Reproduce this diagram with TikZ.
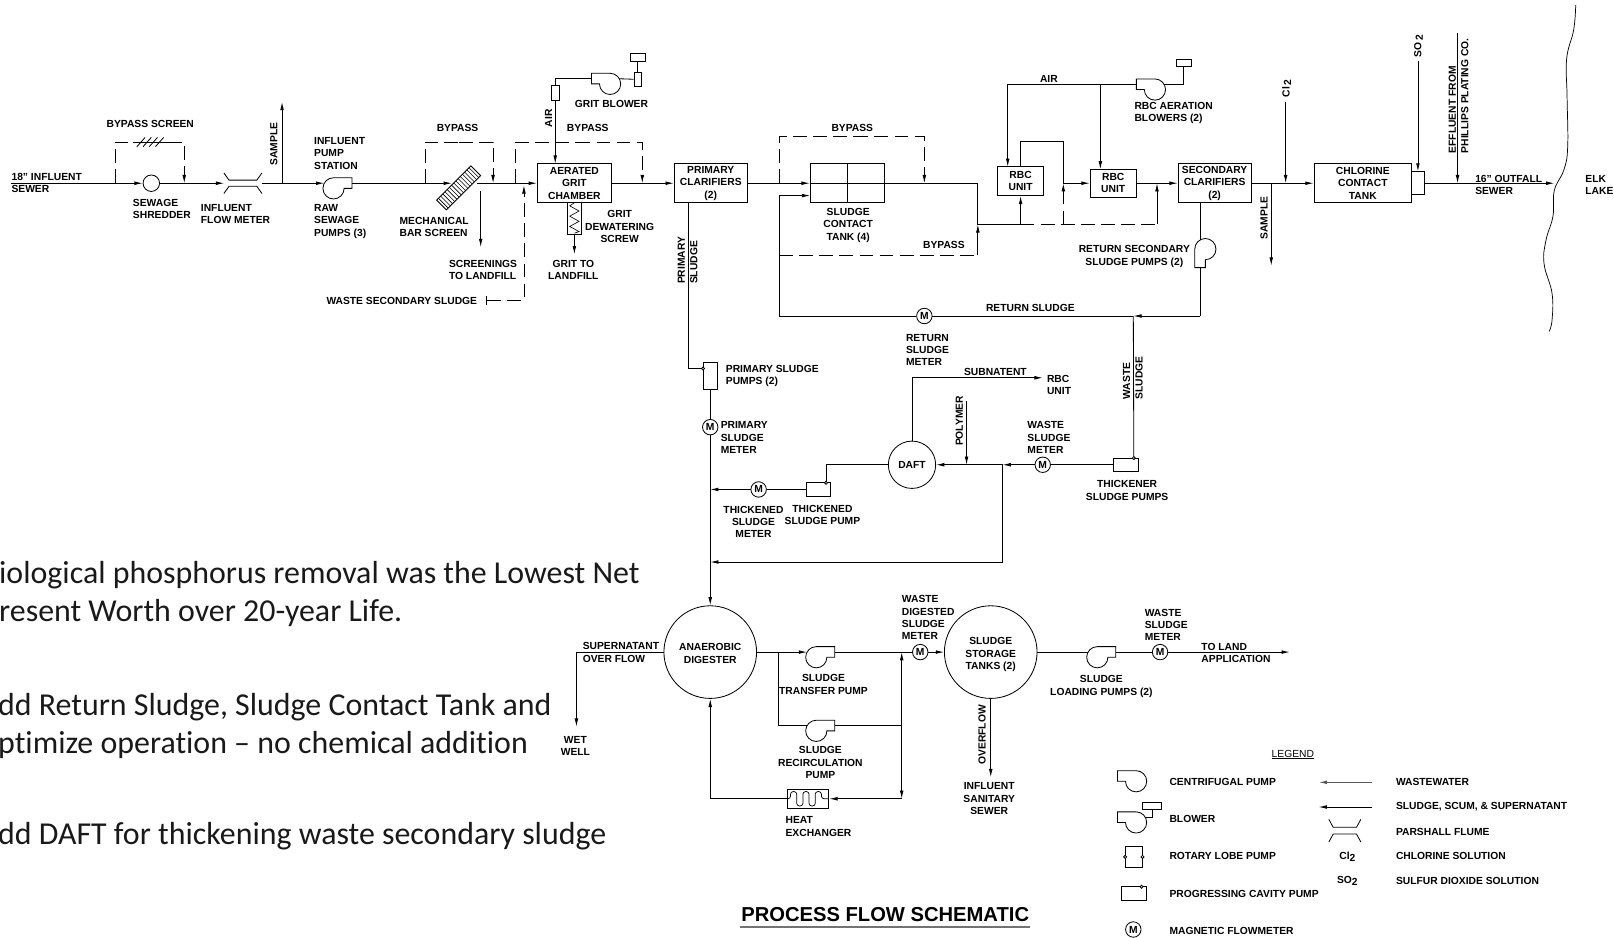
\documentclass[tikz,border=0pt]{standalone}
\usepackage{fontspec}
\setmainfont{Liberation Sans}
\newfontfamily\bodyf[Ligatures=NoCommon]{Carlito}
\usetikzlibrary{arrows.meta,calc}
\tikzset{
  ln/.style={line width=.8pt,draw=black},
  arr/.style={ln,-{Latex[length=8pt,width=3.6pt]}},
  byp/.style={ln,dash pattern=on 13.5pt off 6pt},
  bypa/.style={byp,-{Latex[length=8pt,width=3.6pt]}},
  lbl/.style={font=\fontsize{10}{12}\selectfont\bfseries,align=center,inner sep=0pt},
  lbll/.style={lbl,align=left,anchor=west},
  rlbl/.style={lbl,rotate=90},
  rlbll/.style={lbl,rotate=90,align=left,anchor=west},
  boxn/.style={lbl,draw=black,line width=.8pt,fill=white,minimum width=#1,minimum height=38pt},
  smallb/.style={draw=black,line width=.8pt,fill=white,inner sep=0pt},
  hid/.style={inner sep=0pt,minimum width=#1,minimum height=12pt},
  tank/.style={lbl,circle,draw=black,line width=.8pt,fill=white,minimum size=#1},
  meter/.style={circle,draw=black,line width=.8pt,fill=white,inner sep=0pt,minimum size=15pt,font=\fontsize{10}{10}\selectfont\bfseries},
  bodyt/.style={font=\bodyf\fontsize{31}{37}\selectfont,anchor=base west,inner sep=0pt,text=black!90},
  cpump/.pic={
    \draw[ln,fill=white] (0,-10.3)--(18,-10.3)--(18,0)--(10.3,0) arc[radius=10.3pt,start angle=0,end angle=-270]--cycle;
    \coordinate (-in) at (-9,-5);
    \coordinate (-out) at (18,-5);
  },
  cavpump/.pic={
    \draw[ln,fill=white] (-12,-6.5) rectangle (12,6.5);
    \draw[ln,fill=white] (7.5,-6.5) circle[radius=1.5pt];
    \coordinate (-nub) at (7.5,-8);
    \coordinate (-l) at (-12,0);
    \coordinate (-r) at (12,0);
  },
  flumesym/.pic={
    \draw[ln] (-18.5,-10)--(-13.5,-3)--(13.5,-3)--(18.5,-10);
    \draw[ln] (-18.5,10)--(-13.5,3)--(13.5,3)--(18.5,10);
  },
}
\begin{document}
\begin{tikzpicture}[x=1pt,y=-1pt]
\useasboundingbox (0,0) rectangle (1568,910.3);
\fill[white] (0,0) rectangle (1568,910.3);

% ---------- equipment ----------
\node[meter,minimum size=16pt] (shredder) at (147,178) {};
\node[hid=36pt] (flume) at (236,178) {};
\pic at (236,178) {flumesym};
\pic (rawp) at (324,183) {cpump};
\begin{scope}[shift={(445.5,182.5)},rotate=45]
  \draw[ln,fill=white] (-23.5,-6.7) rectangle (23.5,6.7);
  \foreach \i in {-21,-18,...,21} \draw[line width=.55pt] (\i,-6.7)--(\i,6.7);
\end{scope}
\node[boxn=72pt] (grit) at (558,178) {AERATED\\GRIT\\CHAMBER};
\node[boxn=71pt] (prim) at (690.5,178) {PRIMARY\\CLARIFIERS\\(2)};
\node[boxn=72pt] (sct) at (823,178) {};
\draw[ln] (sct.north)--(sct.south) (sct.west)--(sct.east);
\node[lbl,draw=black,line width=.8pt,fill=white,minimum width=45pt,minimum height=28pt] (rbcA) at (991.5,176) {RBC\\UNIT};
\node[lbl,draw=black,line width=.8pt,fill=white,minimum width=45pt,minimum height=27pt] (rbcB) at (1081.5,178) {RBC\\UNIT};
\node[boxn=71pt] (sec) at (1180,178) {SECONDARY\\CLARIFIERS\\(2)};
\node[boxn=95pt] (ccT) at (1324,178) {CHLORINE\\CONTACT\\TANK};
\node[smallb,minimum width=13pt,minimum height=22pt] (so2b) at (1377.5,178) {};

% grit blower
\pic[xscale=-1] (blA) at (592.7,81.5) {cpump};
\node[smallb,minimum width=7.5pt,minimum height=14.5pt] (airR) at (539.4,90) {};
\node[smallb,minimum width=7pt,minimum height=14pt] (gbR) at (619.5,77) {};
\node[smallb,minimum width=15pt,minimum height=7.5pt] (gbB) at (619.5,56) {};
% grit screw
\node[smallb,minimum width=13.5pt,minimum height=31pt] (screw) at (558,212) {};
\draw[line width=.6pt] (558,197)--(553.5,200)--(562.5,205)--(553.5,210)--(562.5,215)--(553.5,220)--(562.5,225)--(558,226.5);
% RBC blower
\pic[xscale=-1] (blB) at (1122,87) {cpump};
\node[smallb,minimum width=14pt,minimum height=7.5pt] (rbB) at (1150,61) {};
% return pump
\pic[xscale=-1,rotate=-90] (rsp) at (1171,242) {cpump};
% solids line pumps
\node[smallb,minimum width=13pt,minimum height=26pt] (ppump) at (690,365) {};
\node[smallb,circle,minimum size=3pt] (ppnub) at (683,358) {};
\pic (tkp) at (795,475.5) {cavpump};
\pic (thp) at (1094,451.5) {cavpump};
\node[tank=46pt] (daft) at (886,451.5) {DAFT};
\node[tank=90pt] (dig) at (690,633.5) {\rule{0pt}{9.5pt}ANAEROBIC\\DIGESTER};
\node[tank=90pt] (stor) at (962.5,633.5) {\rule{0pt}{12pt}SLUDGE\\STORAGE\\TANKS (2)};
\pic (tp) at (793,638.5) {cpump};
\pic (rp) at (793,710) {cpump};
\pic (lp) at (1066,638.5) {cpump};
\node[smallb,minimum width=40.5pt,minimum height=18pt] (hx) at (785,776) {};
\draw[line width=.7pt,rounded corners=2.6pt] (765,776)--(768,776)--(768,769)--(774,769)--(774,783)--(780,783)--(780,769)--(786,769)--(786,783)--(792,783)--(792,769)--(798,769)--(798,776)--(805,776);
% meters
\node[meter] (rsm) at (898,307) {M};
\node[meter] (psm) at (690,415) {M};
\node[meter] (tsm) at (737,475.5) {M};
\node[meter] (wsmA) at (1013,451.5) {M};
\node[meter] (dsm) at (894,633.5) {M};
\node[meter] (wsmB) at (1127,633.5) {M};

% ---------- named points ----------
\coordinate (inA) at (11,178);
\coordinate (jBs1) at (112,178);\coordinate (jBs2) at (179,178);
\coordinate (hashL) at (129,138);\coordinate (hashR) at (163,138);
\coordinate (jSam) at (274,178);\coordinate (samEnd) at (274,99);
\coordinate (barIn) at (439,178);\coordinate (barOut) at (463,178);
\coordinate (jBb1) at (413,178);\coordinate (jBb2) at (479,178);\coordinate (barTop) at (446,138);
\coordinate (scr1) at (467,186);\coordinate (scr2) at (467,240);
\coordinate (jBg1) at (501,178);\coordinate (jBg2) at (624,178);\coordinate (grTop) at (560,138);
\coordinate (wss1) at (473,292);\coordinate (wss2) at (509,180);
\coordinate (airEnd) at (539.4,159);
\coordinate (gritEnd) at (558,247);
\coordinate (pOut) at (669,197);
\coordinate (jBc1) at (757,178);\coordinate (jBc2) at (898,178);\coordinate (cTop) at (830,133);
\coordinate (jR1) at (757,190);\coordinate (cT) at (787,190);\coordinate (jR2) at (757,307);
\coordinate (jR4) at (757,248);\coordinate (jR5) at (950,248);\coordinate (jH2) at (950,218);
\coordinate (jF) at (950,178);\coordinate (jH) at (991.5,218);
\coordinate (jK) at (1033,137);\coordinate (jL) at (1033,178);\coordinate (jO) at (1033,218);
\coordinate (jM) at (1124,218);\coordinate (jN) at (1124,178);
\coordinate (jAir) at (979,82);\coordinate (airA) at (979,162);
\coordinate (jAirB) at (1069,82);\coordinate (airB) at (1069,164.5);
\coordinate (sec1) at (1166,197);\coordinate (jR3) at (1166,307);\coordinate (jW) at (1101,307);
\coordinate (cl1) at (1249,99);\coordinate (cl2) at (1249,178);
\coordinate (sm1) at (1235,178);\coordinate (sm2) at (1235,258);
\coordinate (so2t) at (1377.5,59);
\coordinate (ef1) at (1416,32);\coordinate (ef2) at (1416,178);
\coordinate (lake) at (1510,178);
\coordinate (j669) at (669,358);
\coordinate (jT1) at (690,475.5);\coordinate (jT2) at (690,546);
\coordinate (jTee) at (974,451.5);\coordinate (jTee2) at (974,546);
\coordinate (sub1) at (886,367);\coordinate (sub2) at (1013,367);
\coordinate (pol1) at (939,390);\coordinate (pol2) at (939,451.5);
\coordinate (wet) at (560,706);
\coordinate (jA) at (756,633.5);\coordinate (jC) at (876,705);\coordinate (jD) at (876,633.5);\coordinate (jE) at (876,776);
\coordinate (ovE) at (962.5,755);\coordinate (landE) at (1253,633.5);

% ---------- connectors: headworks ----------
\draw[arr] (inA)--(shredder);
\draw[arr] (shredder)--(flume);
\draw[arr] (flume)--(rawp-in);
\draw[arr] (jSam)--(samEnd);
\draw[arr] (rawp-out)--(barIn);
\draw[arr] (barOut)--(grit.west);
\draw[arr] (scr1)--(scr2);
\draw[byp] (jBs1)|-(hashL);
\draw[ln] (hashL)--(hashR);
\foreach \i in {137,143,149,155} \draw[ln] (\i-4,142.5)--(\i+4,133.5);
\draw[bypa] (hashR)-|(jBs2);
\draw[byp] (jBb1)|-(barTop);
\draw[bypa] (barTop)-|(jBb2);
\draw[byp] (jBg1)|-(grTop);
\draw[bypa] (grTop)-|(jBg2);
\draw[bypa] (wss1)-|(wss2);
\draw[ln] (473,288)--(473,296);
\draw[arr] (grit.east)--(prim.west);
\draw[ln] (blA-out)-|(airR.north);
\draw[arr] (airR.south)--(airEnd);
\draw[ln] (blA-in)--(gbR.west);
\draw[ln] (gbR.north)--(gbB.south);
\draw[arr] (screw.south)--(gritEnd);
% contact tank and RBC
\draw[arr] (prim.east)--(sct.west);
\draw[byp] (jBc1)|-(cTop);
\draw[bypa] (cTop)-|(jBc2);
\draw[arr] (jR1)--(cT);
\draw[ln] (sct.east)--(jF)--(jH2)--(jH);
\draw[arr] (jH)--(rbcA.south);
\draw[byp] (jR4)--(jR5);
\draw[arr] (jR5)--(jH2);
\draw[ln] (rbcA.north)|-(jK)--(jL);
\draw[arr] (jL)--(rbcB.west);
\draw[byp] (jH)-|(jM);
\draw[arr] (jM)--(jN);
\draw[bypa] (jO)--(jL);
\draw[arr] (rbcB.east)--(sec.west);
\draw[ln] (blB-out)--(jAir);
\draw[arr] (jAir)--(airA);
\draw[arr] (jAirB)--(airB);
\draw[ln] (blB-in)-|(rbB.south);
% secondary side
\draw[ln] (sec1)--(rsp-in);
\draw[ln] (rsp-out)--(jR3);
\draw[arr] (jR3)--(jW);
\draw[ln] (jW)--(rsm);
\draw[ln] (rsm)--(jR2)--(jR1);
\draw[arr] (sec.east)--(ccT.west);
\draw[arr] (cl1)--(cl2);
\draw[arr] (sm1)--(sm2);
\draw[arr] (so2t)--(so2b.north);
\draw[arr] (so2b.east)--(lake);
\draw[arr] (ef1)--(ef2);
% solids
\draw[ln] (pOut)--(j669)--(ppnub);
\draw[ln] (ppump.south)--(psm);
\draw[arr] (psm)--(dig.north);
\draw[ln] (jW)--(thp-nub);
\draw[ln] (thp-l)--(wsmA);
\draw[arr] (wsmA)--(jTee);
\draw[arr] (jTee)--(daft.east);
\draw[ln] (jTee)--(jTee2);
\draw[arr] (jTee2)--(jT2);
\draw[arr] (pol1)--(pol2);
\draw[ln] (daft.north)--(sub1);
\draw[arr] (sub1)--(sub2);
\draw[ln] (daft.west)-|(tkp-nub);
\draw[ln] (tkp-l)--(tsm);
\draw[arr] (tsm)--(jT1);
% digestion
\draw[arr] (dig.west)-|(wet);
\draw[arr] (dig.east)--(tp-in);
\draw[ln] (tp-out)--(dsm);
\draw[arr] (dsm)--(stor.west);
\draw[ln] (jA)|-(rp-in);
\draw[ln] (rp-out)--(jC);
\draw[arr] (jC)--(jD);
\draw[arr] (jC)--(jE);
\draw[arr] (jE)--(hx.east);
\draw[arr] (hx.west)-|(dig.south);
\draw[arr] (stor.south)--(ovE);
\draw[ln] (stor.east)--(lp-in);
\draw[ln] (lp-out)--(wsmB);
\draw[arr] (wsmB)--(landE);

% shoreline
\draw[line width=.7pt] plot[smooth,tension=.7] coordinates {(1530.8,5)(1528.8,29)(1522,57)(1522.4,94)(1523,142.5)(1519.3,165)(1510,185)(1508.7,210)(1502,233)(1500,256)(1507.8,285)(1507.8,311)(1505,322)};

% ---------- labels ----------
\node[lbll] (t1) at (11,178) {18" INFLUENT\\SEWER};
\node[lbl] (t2) at (146,120) {BYPASS SCREEN};
\node[lbll] (t3) at (129,203) {SEWAGE\\SHREDDER};
\node[lbll] (t4) at (195,208) {INFLUENT\\FLOW METER};
\node[rlbl] (t5) at (266,140) {SAMPLE};
\node[lbll] (t6) at (305,149) {INFLUENT\\PUMP\\STATION};
\node[lbll] (t7) at (305,215) {RAW\\SEWAGE\\PUMPS (3)};
\node[lbll] (t8) at (388,220.5) {MECHANICAL\\BAR SCREEN};
\node[lbl] (t9) at (444.5,124) {BYPASS};
\node[lbll] (t10) at (436,262) {SCREENINGS\\TO LANDFILL};
\node[lbll] (t11) at (317,292.5) {WASTE SECONDARY SLUDGE};
\node[lbl] (t12) at (594,101) {GRIT BLOWER};
\node[rlbl] (t13) at (533,115) {AIR};
\node[lbl] (t14) at (571,124) {BYPASS};
\node[lbl] (t15) at (602,220) {GRIT\\DEWATERING\\SCREW};
\node[lbl] (t16) at (557,262) {GRIT TO\\LANDFILL};
\node[rlbll] (t17) at (668,276) {PRIMARY\\SLUDGE};
\node[lbl] (t18) at (828,124) {BYPASS};
\node[lbl] (t19) at (824,219) {SLUDGE\\CONTACT\\TANK (4)};
\node[lbl] (t20) at (917,238) {BYPASS};
\node[lbl] (t21) at (1019,77) {AIR};
\node[lbll] (t22) at (1102,110) {RBC AERATION\\BLOWERS (2)};
\node[lbl] (t23) at (1102,249) {RETURN SECONDARY\\SLUDGE PUMPS (2)};
\node[rlbl] (t24) at (1250,86) {Cl\,\raisebox{-1.5pt}{2}};
\node[rlbl] (t25) at (1378,45) {SO\,\raisebox{-1.5pt}{2}};
\node[rlbll] (t26) at (1417,149) {EFFLUENT FROM\\PHILLIPS PLATING CO.};
\node[lbll] (t27) at (1433,179.5) {16" OUTFALL\\SEWER};
\node[lbll] (t28) at (1540,179.5) {ELK\\LAKE};
\node[rlbl] (t29) at (1228,212) {SAMPLE};
\node[lbl] (t30) at (1001,299) {RETURN SLUDGE};
\node[lbll] (t31) at (880,340) {RETURN\\SLUDGE\\METER};
\node[lbll] (t32) at (705,365) {PRIMARY SLUDGE\\PUMPS (2)};
\node[lbll] (t33) at (700,425) {PRIMARY\\SLUDGE\\METER};
\node[lbl] (t34) at (967,361) {SUBNATENT};
\node[lbll] (t35) at (1017,374) {RBC\\UNIT};
\node[rlbl] (t36) at (932,409) {POLYMER};
\node[lbll] (t37) at (998,425) {WASTE\\SLUDGE\\METER};
\node[rlbll] (t38) at (1100.5,388) {WASTE\\SLUDGE};
\node[lbl] (t39) at (1095,476.5) {THICKENER\\SLUDGE PUMPS};
\node[lbl] (t40) at (732,507) {THICKENED\\SLUDGE\\METER};
\node[lbl] (t41) at (799,500.5) {THICKENED\\SLUDGE PUMP};
\node[lbll] (t42) at (566,634) {SUPERNATANT\\OVER FLOW};
\node[lbl] (t43) at (559,725) {WET\\WELL};
\node[lbll] (t44) at (876,600) {WASTE\\DIGESTED\\SLUDGE\\METER};
\node[lbl] (t45) at (800,665) {SLUDGE\\TRANSFER PUMP};
\node[lbl] (t46) at (797,741) {SLUDGE\\RECIRCULATION\\PUMP};
\node[lbll] (t47) at (763,803) {HEAT\\EXCHANGER};
\node[rlbl] (t48) at (954,714) {OVERFLOW};
\node[lbl] (t49) at (961,776) {INFLUENT\\SANITARY\\SEWER};
\node[lbl] (t50) at (1070,667) {SLUDGE\\LOADING PUMPS (2)};
\node[lbll] (t51) at (1112,607) {WASTE\\SLUDGE\\METER};
\node[lbll] (t52) at (1167,634.5) {TO LAND\\APPLICATION};

% ---------- legend ----------
\node[inner sep=0pt,font=\fontsize{10}{12}\selectfont] (lg0) at (1256,733) {\underline{LEGEND}};
\pic[xscale=-1] (lgp) at (1103.7,759) {cpump};
\pic[xscale=-1] (lgb) at (1103.7,799) {cpump};
\node[smallb,minimum width=18.5pt,minimum height=7.5pt] (lgbB) at (1119.5,783) {};
\draw[ln] (lgb-in)-|(lgbB.south);
\node[smallb,minimum width=16pt,minimum height=20pt] (lgr) at (1101.5,832.5) {};
\node[smallb,circle,minimum size=3pt] (lgr1) at (lgr.west) {};
\node[smallb,circle,minimum size=3pt] (lgr2) at (lgr.east) {};
\pic (lgc) at (1101.5,868) {cavpump};
\node[meter] (lgm) at (1101,903) {M};
\node[lbll] (l1) at (1136,760) {CENTRIFUGAL PUMP};
\node[lbll] (l2) at (1136,796) {BLOWER};
\node[lbll] (l3) at (1136,832) {ROTARY LOBE PUMP};
\node[lbll] (l4) at (1136,868) {PROGRESSING CAVITY PUMP};
\node[lbll] (l5) at (1136,904) {MAGNETIC FLOWMETER};
\coordinate (lw1) at (1333,760);\coordinate (lw2) at (1281,760);
\coordinate (ls1) at (1333,784);\coordinate (ls2) at (1281,784);
\draw[arr,draw=black!65,line width=1.1pt] (lw1)--(lw2);
\draw[arr] (ls1)--(ls2);
\pic[xscale=.84,yscale=1.1] at (1306.5,807) {flumesym};
\node[lbl] (l6) at (1309,832) {Cl\raisebox{-2pt}{2}};
\node[lbl] (l7) at (1309,856) {SO\raisebox{-2pt}{2}};
\node[lbll] (l8) at (1356,760) {WASTEWATER};
\node[lbll] (l9) at (1356,784) {SLUDGE, SCUM, \& SUPERNATANT};
\node[lbll] (l10) at (1356,808) {PARSHALL FLUME};
\node[lbll] (l11) at (1356,832) {CHLORINE SOLUTION};
\node[lbll] (l12) at (1356,856) {SULFUR DIOXIDE SOLUTION};

% ---------- title and body text ----------
\node[inner sep=0pt,font=\fontsize{19.6}{22}\selectfont\bfseries] (title) at (860,888) {PROCESS FLOW SCHEMATIC};
\coordinate (tL) at (719,900.5);\coordinate (tR) at (1001,900.5);
\draw[line width=1.6pt,black!55] (tL)--(tR);
\node[bodyt] (b1) at (-1,566.5) {iological phosphorus removal was the Lowest Net};
\node[bodyt] (b2) at (-1,604) {resent Worth over 20-year Life.};
\node[bodyt] (b3) at (-2,695) {dd Return Sludge, Sludge Contact Tank and};
\node[bodyt] (b4) at (-2,732) {ptimize operation – no chemical addition};
\node[bodyt] (b5) at (-2,820.5) {dd DAFT for thickening waste secondary sludge};
\end{tikzpicture}
\end{document}
